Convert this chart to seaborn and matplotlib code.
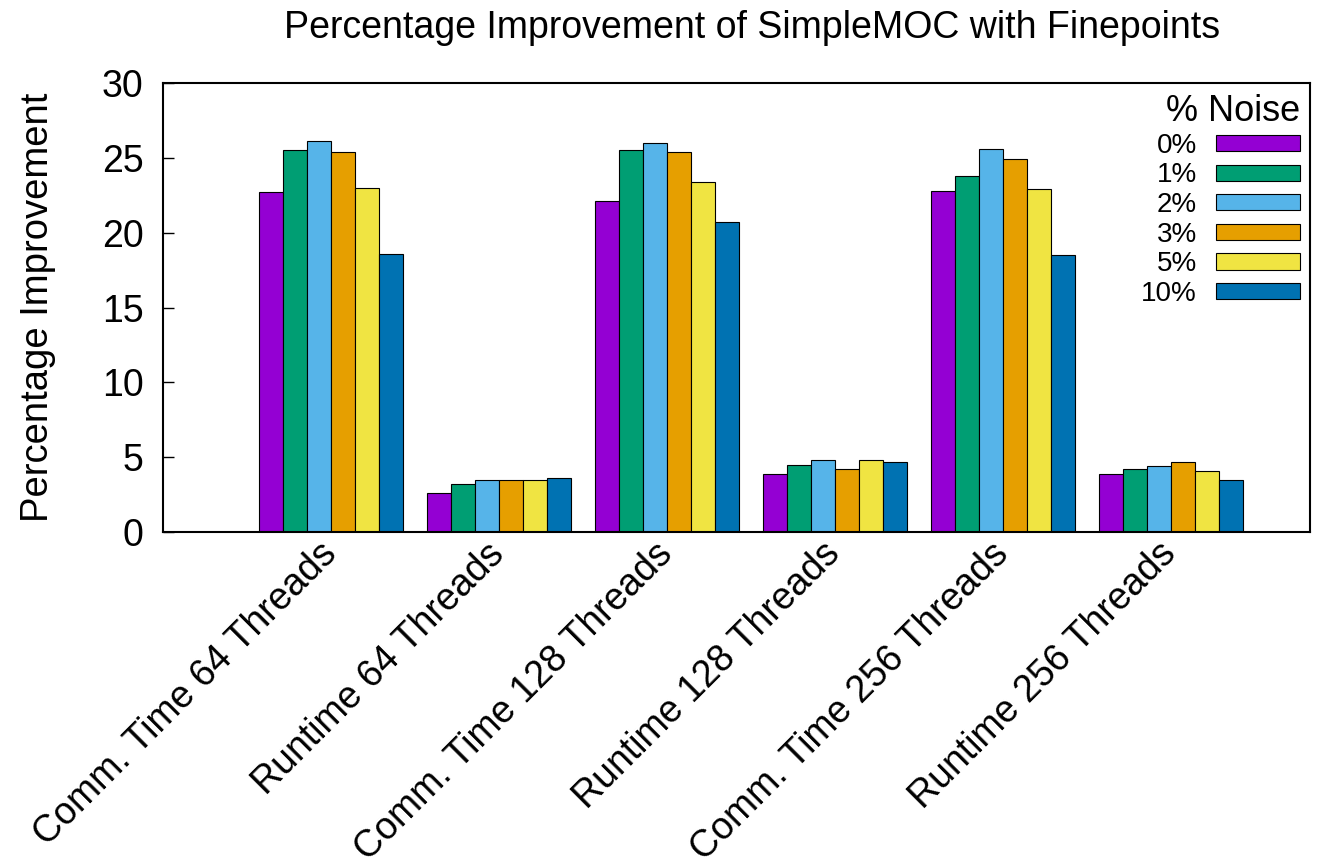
import matplotlib
matplotlib.use("Agg")
import matplotlib.pyplot as plt
import seaborn as sns
import pandas as pd
from matplotlib.patches import Patch

categories = ["Comm. Time 64 Threads", "Runtime 64 Threads", "Comm. Time 128 Threads",
              "Runtime 128 Threads", "Comm. Time 256 Threads", "Runtime 256 Threads"]
noise_levels = ["0%", "1%", "2%", "3%", "5%", "10%"]
noise_0 = [22.7, 2.6, 22.1, 3.9, 22.8, 3.9]
noise_1 = [25.5, 3.2, 25.5, 4.5, 23.8, 4.2]
noise_2 = [26.1, 3.5, 26.0, 4.8, 25.6, 4.4]
noise_3 = [25.4, 3.5, 25.4, 4.2, 24.9, 4.7]
noise_5 = [23.0, 3.5, 23.4, 4.8, 22.9, 4.1]
noise_10 = [18.6, 3.6, 20.7, 4.7, 18.5, 3.5]
colors = ["#9400d3", "#009e73", "#56b4e9", "#e69f00", "#f0e442", "#0072b2"]

series = [noise_0, noise_1, noise_2, noise_3, noise_5, noise_10]
rows = []
for level, vals in zip(noise_levels, series):
    for cat, v in zip(categories, vals):
        rows.append({"category": cat, "noise": level, "value": v})
df = pd.DataFrame(rows)

sns.set_theme(style="white")
plt.rcParams["font.family"] = ["Liberation Sans", "DejaVu Sans"]
plt.rcParams["text.color"] = "black"
plt.rcParams["axes.labelcolor"] = "black"
plt.rcParams["xtick.color"] = "black"
plt.rcParams["ytick.color"] = "black"

W, H = 1322, 866
fig = plt.figure(figsize=(W / 100, H / 100), dpi=100)
ax = fig.add_axes([163 / W, 1 - 532 / H, 1147 / W, 449 / H])

sns.barplot(data=df, x="category", y="value", hue="noise", order=categories,
            hue_order=noise_levels, palette=colors, saturation=1, width=6 / 7,
            edgecolor="black", linewidth=0.8, errorbar=None, legend=False, ax=ax)

ax.set_xlim(-1, 5.83)
ax.set_ylim(0, 30)
ax.set_yticks(range(0, 31, 5))
ax.set_xlabel("")
ax.set_ylabel("Percentage Improvement", fontsize=27.5, color="black")
ax.yaxis.set_label_coords(-0.093, 0.5)

ax.tick_params(axis="y", direction="in", length=8, width=1, pad=14,
               labelsize=27, left=True, right=False, colors="black")
ax.tick_params(axis="x", length=0, pad=12, labelsize=27, colors="black")
for lbl in ax.get_xticklabels():
    lbl.set_rotation(45)
    lbl.set_ha("right")
    lbl.set_va("center")
    lbl.set_rotation_mode("anchor")

for sp in ax.spines.values():
    sp.set_visible(True)
    sp.set_color("black")
    sp.set_linewidth(1.5)

handles = [Patch(facecolor=c, edgecolor="black", linewidth=0.8) for c in colors]
leg = ax.legend(handles, noise_levels, loc="upper right", bbox_to_anchor=(0.991, 0.975),
                frameon=False, markerfirst=False, fontsize=20, title="% Noise",
                title_fontsize=26, handlelength=3.0, handleheight=0.52,
                handletextpad=0.7, labelspacing=0.13, borderpad=0, borderaxespad=0)
leg._legend_box.align = "right"
leg.get_title().set_color("black")
for t in leg.get_texts():
    t.set_color("black")

fig.text(752 / W, 1 - 28 / H, "Percentage Improvement of SimpleMOC with Finepoints",
         ha="center", va="center", fontsize=27, color="black")

fig.savefig("out.png", dpi=100)
